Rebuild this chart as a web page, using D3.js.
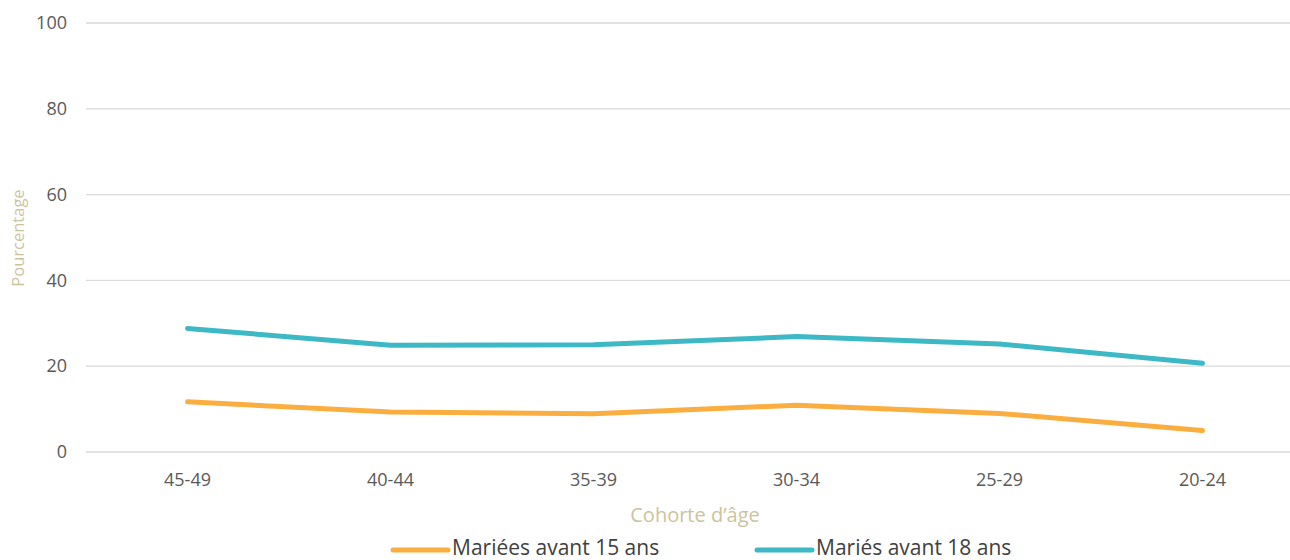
<!DOCTYPE html>
<html><head><meta charset="utf-8">
<script src="https://cdn.jsdelivr.net/npm/d3@7"></script>
<style>body{margin:0;background:#fff}svg{display:block}</style>
</head><body>
<svg id="c" width="1290" height="560"></svg>
<script>
const categories = ["45-49","40-44","35-39","30-34","25-29","20-24"];
const before15 = [11.7, 9.3, 8.9, 10.9, 9.0, 5.0];
const before18 = [28.8, 24.9, 25.0, 26.9, 25.2, 20.7];
const yTicks = [0,20,40,60,80,100];
const seriesNames = ["Mariées avant 15 ans","Mariés avant 18 ans"];
const colors = ["#FBAE40","#3DB8C5"];

(function(){
const svg = d3.select("#c");
const pLeft = 86, pRight = 1304, pTop = 23, pBottom = 452;
const x = d3.scaleBand().domain(categories).range([pLeft, pRight]);
const y = d3.scaleLinear().domain([0,100]).range([pBottom, pTop]);

svg.append("g").selectAll("line").data(yTicks).join("line")
  .attr("x1", pLeft).attr("x2", pRight)
  .attr("y1", d=>y(d)).attr("y2", d=>y(d))
  .attr("stroke", "#d9d9d9").attr("stroke-width", 1.3);

const yAxis = svg.append("g").attr("transform", `translate(${pLeft},0)`)
  .call(d3.axisLeft(y).tickValues(yTicks).tickSize(0).tickPadding(19));
yAxis.select(".domain").remove();
yAxis.selectAll("text").attr("font-family","Open Sans").attr("font-size",18).attr("fill","#595959");

const xAxis = svg.append("g").attr("transform", `translate(0,${pBottom})`)
  .call(d3.axisBottom(x).tickSize(0).tickPadding(21));
xAxis.select(".domain").remove();
xAxis.selectAll("text").attr("font-family","Open Sans").attr("font-size",18).attr("fill","#595959");

const line = d3.line().x((d,i)=>x(categories[i]) + x.bandwidth()/2).y(d=>y(d));
[before15, before18].forEach((s,i)=>{
  svg.append("path").datum(s).attr("d", line)
    .attr("fill","none").attr("stroke", colors[i]).attr("stroke-width", 5)
    .attr("stroke-linecap","round").attr("stroke-linejoin","round");
});

svg.append("text").attr("x", 695).attr("y", 522).attr("text-anchor","middle")
  .attr("font-family","Open Sans").attr("font-size",20).attr("fill","#CCC39E")
  .text("Cohorte d’âge");
svg.append("text").attr("transform","translate(24,238) rotate(-90)").attr("text-anchor","middle")
  .attr("font-family","Open Sans").attr("font-size",16.5).attr("fill","#CCC39E")
  .text("Pourcentage");

const legX = [393, 757];
seriesNames.forEach((n,i)=>{
  const g = svg.append("g");
  g.append("line").attr("x1", legX[i]).attr("x2", legX[i]+55).attr("y1",550).attr("y2",550)
    .attr("stroke", colors[i]).attr("stroke-width",5).attr("stroke-linecap","round");
  g.append("text").attr("x", legX[i]+59).attr("y", 555)
    .attr("font-family","Open Sans").attr("font-size",21).attr("fill","#404040").text(n);
});
})();
</script>
</body></html>
